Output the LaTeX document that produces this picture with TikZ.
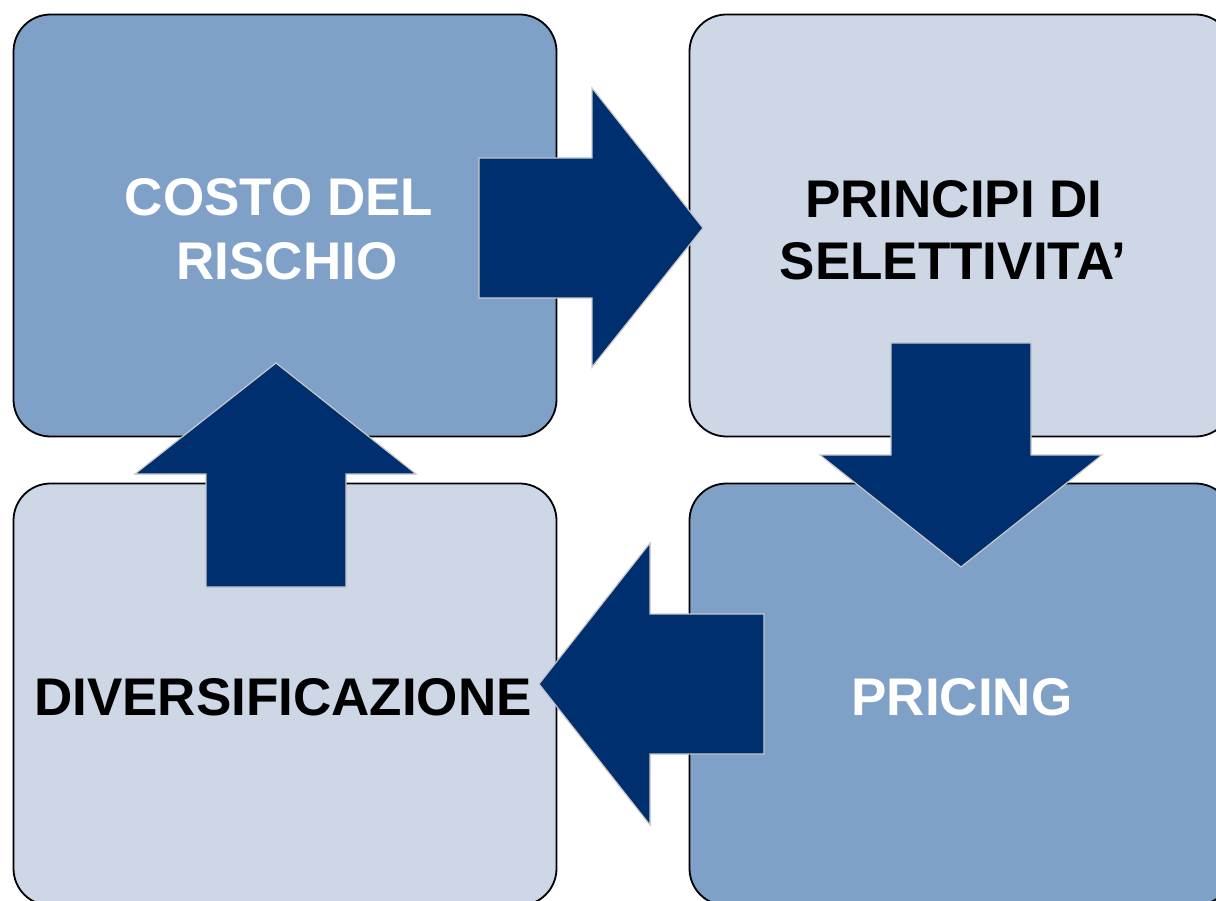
\documentclass[tikz,border=0pt]{standalone}
\usepackage{fontspec}
\setmainfont{Liberation Sans}
\definecolor{boxdark}{RGB}{127,160,199}
\definecolor{boxlight}{RGB}{205,215,230}
\definecolor{arrowblue}{RGB}{0,47,112}
\definecolor{arrowedge}{RGB}{200,200,200}
\begin{document}
\begin{tikzpicture}[x=1pt,y=-1pt,
  box/.style={draw=black,line width=1.8pt,rounded corners=37pt,minimum width=543pt,minimum height=422pt,inner sep=0pt},
  bigarrow/.style={fill=arrowblue,draw=arrowedge,line width=1.2pt,line join=miter},
  lbl/.style={font=\fontsize{53}{63}\selectfont\bfseries,anchor=base,inner sep=0pt}]
\useasboundingbox (0,0) rectangle (1216,901);
\fill[white] (0,0) rectangle (1216,901);
\begin{scope}
\clip (0,0) rectangle (1216,901);
\node[box,fill=boxdark]  (tl) at (285,225.5) {};
\node[box,fill=boxlight] (tr) at (961,225.5) {};
\node[box,fill=boxlight] (bl) at (285,694.5) {};
\node[box,fill=boxdark]  (br) at (961,694.5) {};
\end{scope}
% right arrow
\draw[bigarrow] (479,158) -- (592,158) -- (592,88) -- (703,228) -- (592,367) -- (592,298) -- (479,298) -- cycle;
% down arrow
\draw[bigarrow] (891,343) -- (1031,343) -- (1031,455) -- (1102,455) -- (961,567) -- (820,455) -- (891,455) -- cycle;
% left arrow
\draw[bigarrow] (764,614) -- (650,614) -- (650,543) -- (539,684) -- (650,825) -- (650,754) -- (764,754) -- cycle;
% up arrow
\draw[bigarrow] (206,587) -- (206,474) -- (135,474) -- (276,363) -- (416,474) -- (346,474) -- (346,587) -- cycle;
% labels
\node[lbl,text=white] (t1a) at (279,216) {COSTO DEL};
\node[lbl,text=white] (t1b) at (287,280) {RISCHIO};
\node[lbl] (t2a) at (954,218) {PRINCIPI DI};
\node[lbl] (t2b) at (953,280) {SELETTIVITA’};
\node[lbl] (t3) at (283,715) {DIVERSIFICAZIONE};
\node[lbl,text=white] (t4) at (962,715) {PRICING};
\end{tikzpicture}
\end{document}
